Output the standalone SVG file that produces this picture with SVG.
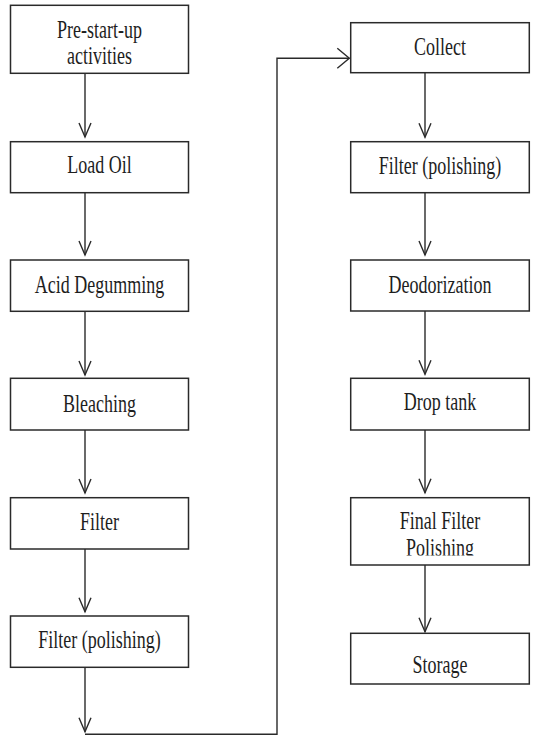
<svg xmlns="http://www.w3.org/2000/svg" width="534" height="737" viewBox="0 0 534 737">
<style>
.box{fill:#fff;stroke:#2a2a2a;stroke-width:1.5}
.t{font-family:"Liberation Serif","Times New Roman",serif;font-size:18px;fill:#1e1e1e;text-anchor:middle}
.c{fill:none;stroke:#2a2a2a;stroke-width:1.4}
</style>
<defs>
<marker id="av" markerUnits="userSpaceOnUse" markerWidth="16" markerHeight="16" refX="14" refY="6" orient="auto" overflow="visible">
<path d="M0,0 L14,6 L0,12" fill="none" stroke="#2a2a2a" stroke-width="1.4"/>
</marker>
<marker id="ah" markerUnits="userSpaceOnUse" markerWidth="16" markerHeight="24" refX="12" refY="10" orient="auto" overflow="visible">
<path d="M0,0 L12,10 L0,20" fill="none" stroke="#2a2a2a" stroke-width="1.4"/>
</marker>
<clipPath id="clipL1"><rect x="10" y="5" width="179" height="60"/></clipPath>
<clipPath id="clipR5"><rect x="350" y="497" width="180" height="58.5"/></clipPath>
</defs>
<g id="connectors">
<line class="c" x1="85" y1="73.3" x2="85" y2="137" marker-end="url(#av)"/>
<line class="c" x1="85" y1="192.7" x2="85" y2="255" marker-end="url(#av)"/>
<line class="c" x1="85" y1="311.3" x2="85" y2="375" marker-end="url(#av)"/>
<line class="c" x1="85" y1="430" x2="85" y2="493" marker-end="url(#av)"/>
<line class="c" x1="85" y1="549" x2="85" y2="611.7" marker-end="url(#av)"/>
<line class="c" x1="85" y1="667.3" x2="85" y2="731.7" marker-end="url(#av)"/>
<polyline class="c" points="85,734.3 277,734.3 277,58.3 349.3,58.3" marker-end="url(#ah)"/>
<line class="c" x1="425" y1="72.7" x2="425" y2="137.3" marker-end="url(#av)"/>
<line class="c" x1="425" y1="192.7" x2="425" y2="255" marker-end="url(#av)"/>
<line class="c" x1="425" y1="311" x2="425" y2="374.3" marker-end="url(#av)"/>
<line class="c" x1="425" y1="430" x2="425" y2="492.7" marker-end="url(#av)"/>
<line class="c" x1="425" y1="565" x2="425" y2="631.7" marker-end="url(#av)"/>
</g>
<g id="pre-start-up">
<rect class="box" x="10.5" y="5.3" width="178" height="68"/>
<g clip-path="url(#clipL1)">
<text class="t" transform="translate(99.5,38) scale(1,1.42)">Pre-start-up</text>
<text class="t" transform="translate(99.5,64.3) scale(1,1.42)">activities</text>
</g>
</g>
<g id="load-oil">
<rect class="box" x="10.5" y="141.7" width="178" height="51"/>
<text class="t" transform="translate(99.5,173) scale(1,1.42)">Load Oil</text>
</g>
<g id="acid-degumming">
<rect class="box" x="10.5" y="260" width="178" height="51.3"/>
<text class="t" transform="translate(99.5,292.7) scale(1,1.42)">Acid Degumming</text>
</g>
<g id="bleaching">
<rect class="box" x="10.5" y="378.3" width="178" height="51.7"/>
<text class="t" transform="translate(99.5,411.7) scale(1,1.42)">Bleaching</text>
</g>
<g id="filter">
<rect class="box" x="10.5" y="497.7" width="178" height="51.3"/>
<text class="t" transform="translate(99.5,530) scale(1,1.42)">Filter</text>
</g>
<g id="filter-polishing-1">
<rect class="box" x="10.5" y="616" width="178" height="51.3"/>
<text class="t" transform="translate(99.5,647.7) scale(1,1.42)">Filter (polishing)</text>
</g>
<g id="collect">
<rect class="box" x="350.7" y="22.7" width="178.6" height="50"/>
<text class="t" transform="translate(440,55) scale(1,1.42)">Collect</text>
</g>
<g id="filter-polishing-2">
<rect class="box" x="350.7" y="141.7" width="178.6" height="51"/>
<text class="t" transform="translate(440,174) scale(1,1.42)">Filter (polishing)</text>
</g>
<g id="deodorization">
<rect class="box" x="350.7" y="260" width="178.6" height="51"/>
<text class="t" transform="translate(440,292.7) scale(1,1.42)">Deodorization</text>
</g>
<g id="drop-tank">
<rect class="box" x="350.7" y="378.3" width="178.6" height="51.7"/>
<text class="t" transform="translate(440,410) scale(1,1.42)">Drop tank</text>
</g>
<g id="final-filter-polishing">
<rect class="box" x="350.7" y="497.7" width="178.6" height="67.3"/>
<g clip-path="url(#clipR5)">
<text class="t" transform="translate(440,529.3) scale(1,1.42)">Final Filter</text>
<text class="t" transform="translate(440,555.5) scale(1,1.42)">Polishing</text>
</g>
</g>
<g id="storage">
<rect class="box" x="350.7" y="633.3" width="178.6" height="50.7"/>
<text class="t" transform="translate(440,673.3) scale(1,1.42)">Storage</text>
</g>
</svg>
